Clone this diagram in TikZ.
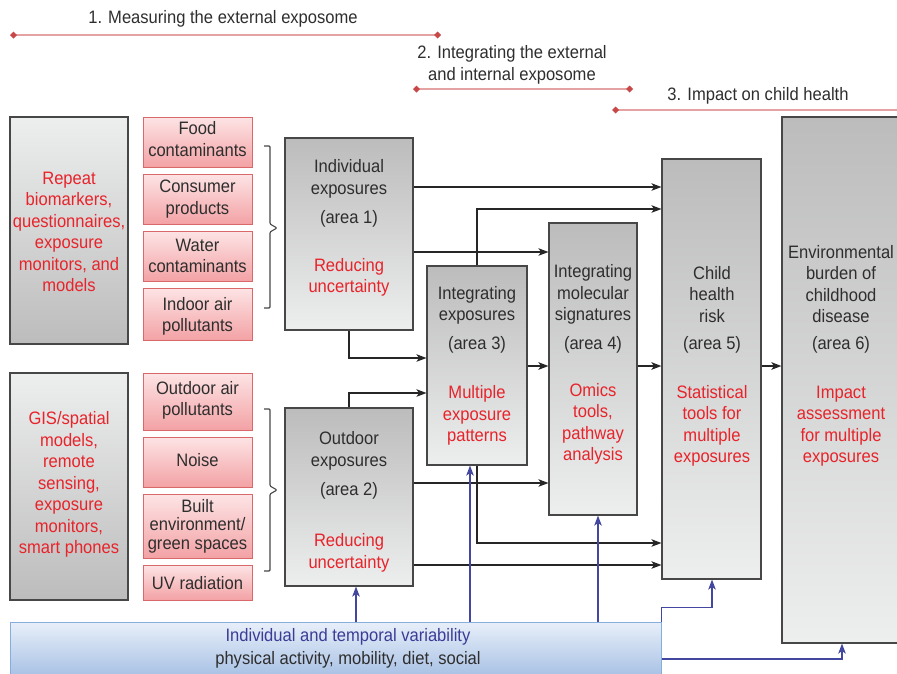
\documentclass[tikz,border=0pt]{standalone}
\usepackage{fontspec}
\setmainfont{Liberation Sans}[FakeStretch=0.92]
\usetikzlibrary{arrows.meta}
\definecolor{txtred}{HTML}{E8232A}
\definecolor{txtdark}{HTML}{2E2E2E}
\definecolor{txtblue}{HTML}{3C3C96}
\definecolor{boxline}{HTML}{474747}
\definecolor{gtop}{HTML}{BCBCBC}
\definecolor{gbot}{HTML}{EDEEEE}
\definecolor{pline}{HTML}{D9686B}
\definecolor{ptop}{HTML}{FDE4E5}
\definecolor{pbot}{HTML}{F3A2A5}
\definecolor{bline}{HTML}{86AEDD}
\definecolor{btop}{HTML}{E8EFF9}
\definecolor{bbot}{HTML}{A8C1E5}
\definecolor{arrblue}{HTML}{4347A0}
\definecolor{topline}{HTML}{E4A2A2}
\definecolor{topdia}{HTML}{C84848}
\begin{document}
\begin{tikzpicture}[x=1pt,y=-1pt,
  gbox/.style={draw=boxline, line width=1.1pt, top color=gtop, bottom color=gbot, inner sep=0pt},
  lbox/.style={draw=boxline, line width=1.1pt, top color=gbot, bottom color=gtop, inner sep=0pt},
  pbox/.style={draw=pline, line width=1pt, top color=ptop, bottom color=pbot, inner sep=0pt},
  bbox/.style={draw=bline, line width=1pt, top color=btop, bottom color=bbot, inner sep=0pt},
  txt/.style={align=center, font=\fontsize{18}{21.5}\selectfont, text=txtdark, inner sep=0pt},
  rtxt/.style={txt, text=txtred},
  arr/.style={-{Stealth[length=10pt,width=7.5pt,inset=2.5pt]}, line width=1.1pt, draw=black!85},
  thickarr/.style={arr, line width=2pt},
  barr/.style={-{Stealth[length=10pt,width=7.5pt,inset=2.5pt]}, line width=1.1pt, draw=arrblue},
  phase/.style={draw=topline, line width=2.2pt},
  bracestyle/.style={draw=boxline, line width=1.1pt, rounded corners=1pt}
]
\useasboundingbox (0,0) rectangle (897,673);

% phase labels
\node[txt] (p1) at (223,19) {1. Measuring the external exposome};
\coordinate (p1a) at (10,35); \coordinate (p1b) at (441,35);
\draw[phase, {Diamond[length=7pt,width=7pt,color=topdia]}-{Diamond[length=7pt,width=7pt,color=topdia]}] (p1a) -- (p1b);
\node[txt] (p2) at (512,65) {2. Integrating the external\\and internal exposome};
\coordinate (p2a) at (413,89); \coordinate (p2b) at (633,89);
\draw[phase, {Diamond[length=7pt,width=7pt,color=topdia]}-{Diamond[length=7pt,width=7pt,color=topdia]}] (p2a) -- (p2b);
\node[txt] (p3) at (758,96) {3. Impact on child health};
\coordinate (p3a) at (612,110); \coordinate (p3b) at (905,110);
\draw[phase, {Diamond[length=7pt,width=7pt,color=topdia]}-] (p3a) -- (p3b);

% left method boxes
\node[lbox, minimum width=118pt, minimum height=227pt] (la) at (69,230.5) {};
\node[rtxt] (lat) at (69,232) {Repeat\\biomarkers,\\questionnaires,\\exposure\\monitors, and\\models};
\node[lbox, minimum width=118pt, minimum height=227pt] (lb) at (69,486.5) {};
\node[rtxt] (lbt) at (69,484.5) {GIS/spatial\\models,\\remote\\sensing,\\exposure\\monitors,\\smart phones};

% pink boxes
\node[pbox, minimum width=109pt, minimum height=50pt] (food) at (197.5,142) {};
\node[txt] (foodt) at (197.5,139) {Food\\contaminants};
\node[pbox, minimum width=109pt, minimum height=50pt] (cons) at (197.5,199) {};
\node[txt] (const) at (197.5,199) {Consumer\\products};
\node[pbox, minimum width=109pt, minimum height=50pt] (water) at (197.5,256) {};
\node[txt] (watert) at (197.5,256) {Water\\contaminants};
\node[pbox, minimum width=109pt, minimum height=52pt] (indoor) at (197.5,314) {};
\node[txt] (indoort) at (197.5,316.5) {Indoor air\\pollutants};
\node[pbox, minimum width=109pt, minimum height=57pt] (outdoor) at (197.5,401.5) {};
\node[txt] (outdoort) at (197.5,400.5) {Outdoor air\\pollutants};
\node[pbox, minimum width=109pt, minimum height=50pt] (noise) at (197.5,462) {};
\node[txt] (noiset) at (197.5,460) {Noise};
\node[pbox, minimum width=109pt, minimum height=64pt] (built) at (197.5,526) {};
\node[txt, font=\fontsize{18}{18.5}\selectfont] (builtt) at (197.5,526) {Built\\environment/\\green spaces};
\node[pbox, minimum width=109pt, minimum height=35pt] (uv) at (197.5,582.5) {};
\node[txt] (uvt) at (197.5,583) {UV radiation};

% braces
\draw[bracestyle] (264,146) -| (270,224) -- (277,228) -- (270,232) |- (264,308);
\draw[bracestyle] (264,409) -| (270,486) -- (277,490) -- (270,494) |- (264,571);

% area boxes
\node[gbox, minimum width=128pt, minimum height=192pt] (a1) at (349,234) {};
\node[txt] (a1t) at (349,179) {Individual\\exposures};
\node[txt] (a1n) at (349,219) {(area 1)};
\node[rtxt] (a1r) at (349,277.5) {Reducing\\uncertainty};

\node[gbox, minimum width=128pt, minimum height=178pt] (a2) at (349,497) {};
\node[txt] (a2t) at (349,451) {Outdoor\\exposures};
\node[txt] (a2n) at (349,491) {(area 2)};
\node[rtxt] (a2r) at (349,553) {Reducing\\uncertainty};

\node[gbox, minimum width=100pt, minimum height=199pt] (a3) at (477,365.5) {};
\node[txt] (a3t) at (477,305.5) {Integrating\\exposures};
\node[txt] (a3n) at (477,345) {(area 3)};
\node[rtxt] (a3r) at (477,415.5) {Multiple\\exposure\\patterns};

\node[gbox, minimum width=88pt, minimum height=292pt] (a4) at (593,369) {};
\node[txt] (a4t) at (593,294.5) {Integrating\\molecular\\signatures};
\node[txt] (a4n) at (593,345) {(area 4)};
\node[rtxt] (a4r) at (593,424) {Omics\\tools,\\pathway\\analysis};

\node[gbox, minimum width=99pt, minimum height=420pt] (a5) at (711.5,369) {};
\node[txt] (a5t) at (712,294.5) {Child\\health\\risk};
\node[txt] (a5n) at (712,345) {(area 5)};
\node[rtxt] (a5r) at (712,426) {Statistical\\tools for\\multiple\\exposures};

\node[gbox, minimum width=117pt, minimum height=526pt] (a6) at (840.5,380) {};
\node[txt] (a6t) at (841,284) {Environmental\\burden of\\childhood\\disease};
\node[txt] (a6n) at (841,345) {(area 6)};
\node[rtxt] (a6r) at (841,426) {Impact\\assessment\\for multiple\\exposures};

% variability box
\node[bbox, minimum width=651pt, minimum height=54pt] (bl) at (335.5,649) {};
\node[txt, text=txtblue] (blt) at (348,637) {Individual and temporal variability};
\node[txt] (blt2) at (348,660) {physical activity, mobility, diet, social};

% black connectors
\draw[arr] (a1.east |- 0,187) -- (a5.west |- 0,187);
\draw[arr] (a3.north) |- (a5.west |- 0,209);
\draw[arr] (a1.east |- 0,252) -- (a4.west |- 0,252);
\draw[arr] (a1.south) |- (a3.west |- 0,358);
\draw[thickarr] (a3.east |- 0,366) -- (a4.west |- 0,366);
\draw[thickarr] (a4.east |- 0,366) -- (a5.west |- 0,366);
\draw[thickarr] (a5.east |- 0,366) -- (a6.west |- 0,366);
\draw[arr] (a2.north) |- (a3.west |- 0,393);
\draw[arr] (a2.east |- 0,483) -- (a4.west |- 0,483);
\draw[arr] (a3.south) |- (a5.west |- 0,543);
\draw[arr] (a2.east |- 0,565) -- (a5.west |- 0,565);

% blue connectors
\draw[barr] (bl.north -| 356,0) -- (a2.south -| 356,0);
\draw[barr] (bl.north -| 470,0) -- (a3.south -| 470,0);
\draw[barr] (bl.north -| 598,0) -- (a4.south -| 598,0);
\draw[barr] (bl.north east) -- ++(0,-14) -| (a5.south -| 712,0);
\draw[barr] (bl.east |- 0,659) -| (a6.south -| 842,0);
\end{tikzpicture}
\end{document}
